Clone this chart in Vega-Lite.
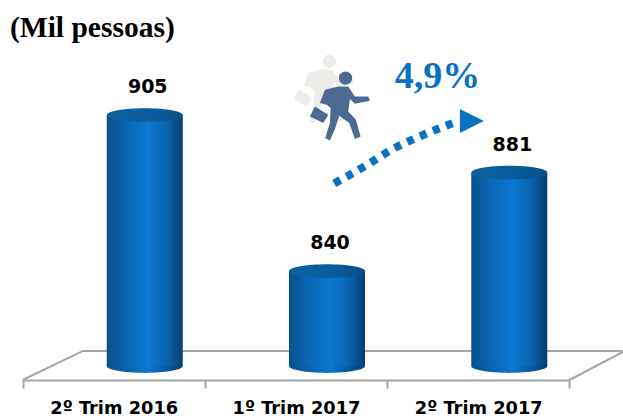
{
"$schema":"https://vega.github.io/schema/vega-lite/v6.json",
"width":623,"height":340,"autosize":"none",
"padding":{"left":0,"top":40,"right":0,"bottom":36},
"background":"white",
"view":{"stroke":null},
"config":{"style":{"cell":{"stroke":null}}},
"title":{"text":"(Mil pessoas)","anchor":"start","frame":"group","dx":10,"offset":-3,"font":"Liberation Serif","fontWeight":"bold","fontSize":29.5,"color":"#000000"},
"datasets":{
"bars":[{"periodo":"2º Trim 2016","valor":905,"base":800.4},{"periodo":"1º Trim 2017","valor":840,"base":800.4},{"periodo":"2º Trim 2017","valor":881,"base":800.4}],
"floor":[{"linha":"a","s":0,"v":794.6},{"linha":"a","s":0.331,"v":806.7},{"linha":"a","s":3.293,"v":806.7},{"linha":"b","s":3,"v":794.6},{"linha":"b","s":3.293,"v":806.3}],
"arrow":[{"s":1.71,"v":876.5},{"s":1.889,"v":884.2},{"s":2.032,"v":890.9},{"s":2.197,"v":896.7},{"s":2.361,"v":901.7}],
"head":[{"s":2.465,"v":902.5}],
"rate":[{"s":2.277,"v":920.9,"t":"4,9%"}],
"ghost":[{"s":1.653,"v":917.1}],
"man":[{"s":1.741,"v":910}]
},
"resolve":{"scale":{"x":"independent"}},
"layer":[
{"encoding":{
"x":{"field":"s","type":"quantitative","axis":null,"scale":{"domain":[0,3],"range":[22.6,569.4],"nice":false,"zero":false}},
"y":{"field":"v","type":"quantitative","axis":null,"scale":{"domain":[794.6,936.3],"nice":false,"zero":false}}},
"layer":[
{"data":{"name":"floor"},"mark":{"type":"line","color":"#a6a6a6","strokeWidth":2,"clip":false},"encoding":{"detail":{"field":"linha"},"order":{"field":"s","type":"quantitative"}}},
{"data":{"name":"ghost"},"mark":{"type":"point","filled":true,"opacity":1,"fill":"#ecebe7","stroke":null,"size":6400,"shape":"M-.375,-.333L-.042,-.417L.208,-.417L.375,-.167L.708,-.167L.75,-.058L.375,.017L.25,-.1L.208,.208L.4,.417L.517,.833L.375,.9L.233,.5L-.017,.317L-.125,.65L-.25,.933L-.367,.875L-.25,.5L-.233,.125L-.333,.042L-.5,0ZM-.625,.083L-.292,.292L-.417,.5L-.75,.333ZM-.027,-.625a.167,.167 0 1,0 .334,0a.167,.167 0 1,0 -.334,0Z"}},
{"data":{"name":"man"},"mark":{"type":"point","filled":true,"opacity":1,"fill":"#4c6a92","stroke":null,"size":6400,"shape":"M-.375,-.333L-.042,-.417L.208,-.417L.375,-.167L.708,-.167L.75,-.058L.375,.017L.25,-.1L.208,.208L.4,.417L.517,.833L.375,.9L.233,.5L-.017,.317L-.125,.65L-.25,.933L-.367,.875L-.25,.5L-.233,.125L-.333,.042L-.5,0ZM-.625,.083L-.292,.292L-.417,.5L-.75,.333ZM-.027,-.625a.167,.167 0 1,0 .334,0a.167,.167 0 1,0 -.334,0Z"}},
{"data":{"name":"arrow"},"mark":{"type":"line","color":"#0a70c0","strokeWidth":8,"strokeDash":[7,7],"interpolate":"monotone"}},
{"data":{"name":"head"},"mark":{"type":"point","filled":true,"opacity":1,"fill":"#0a70c0","stroke":null,"size":576,"shape":"M-1,-1L1,0L-1,1Z"}},
{"data":{"name":"rate"},"mark":{"type":"text","font":"Liberation Serif","fontWeight":"bold","fontSize":38,"color":"#0a70c0","align":"center","baseline":"middle"},"encoding":{"text":{"field":"t"}}}
]},
{"data":{"name":"bars"},
"encoding":{
"x":{"field":"periodo","type":"nominal","sort":null,"title":null,
 "scale":{"range":[22.6,569.4],"paddingInner":0,"paddingOuter":0},
 "axis":{"labelAngle":0,"labelFont":"DejaVu Sans","labelFontWeight":"bold","labelFontSize":17.8,"labelColor":"#000000","labelPadding":20,"labelBaseline":"middle","domainColor":"#a6a6a6","domainWidth":2,"tickColor":"#a6a6a6","tickWidth":2,"tickSize":8,"tickBand":"extent","grid":false}}},
"layer":[
{"mark":{"type":"point","filled":true,"opacity":1,"stroke":null,"size":5776,"xOffset":31,"shape":"M-1,0A1,.18 0 1,1 1,0A1,.18 0 1,1 -1,0Z","fill":{"x1":0,"x2":1,"y1":0,"y2":0,"gradient":"linear","stops":[{"offset":0,"color":"#0a4f8c"},{"offset":0.55,"color":"#0b78d2"},{"offset":1,"color":"#063f70"}]}},
 "encoding":{"y":{"field":"base","type":"quantitative","axis":null,"scale":{"domain":[794.6,936.3],"nice":false,"zero":false}}}},
{"mark":{"type":"bar","width":76,"xOffset":31,"fill":{"x1":0,"x2":1,"y1":0,"y2":0,"gradient":"linear","stops":[{"offset":0,"color":"#0a4f8c"},{"offset":0.25,"color":"#0a66b4"},{"offset":0.55,"color":"#0b78d2"},{"offset":0.8,"color":"#0a62ac"},{"offset":1,"color":"#063f70"}]}},
 "encoding":{"y":{"field":"valor","type":"quantitative","axis":null,"scale":{"domain":[794.6,936.3],"nice":false,"zero":false}},"y2":{"field":"base"}}},
{"mark":{"type":"point","filled":true,"opacity":1,"stroke":null,"size":5776,"xOffset":31,"shape":"M-1,0A1,.18 0 1,1 1,0A1,.18 0 1,1 -1,0Z","fill":{"x1":0,"x2":1,"y1":0,"y2":0,"gradient":"linear","stops":[{"offset":0,"color":"#0c629f"},{"offset":0.5,"color":"#0a5d9e"},{"offset":1,"color":"#0a4f86"}]}},
 "encoding":{"y":{"field":"valor","type":"quantitative","axis":null,"scale":{"domain":[794.6,936.3],"nice":false,"zero":false}}}},
{"mark":{"type":"text","xOffset":34,"dy":-28,"font":"DejaVu Sans","fontWeight":"bold","fontSize":19,"color":"#000000","align":"center","baseline":"middle"},
 "encoding":{"y":{"field":"valor","type":"quantitative","axis":null,"scale":{"domain":[794.6,936.3],"nice":false,"zero":false}},"text":{"field":"valor","type":"quantitative"}}}
]}
]}
